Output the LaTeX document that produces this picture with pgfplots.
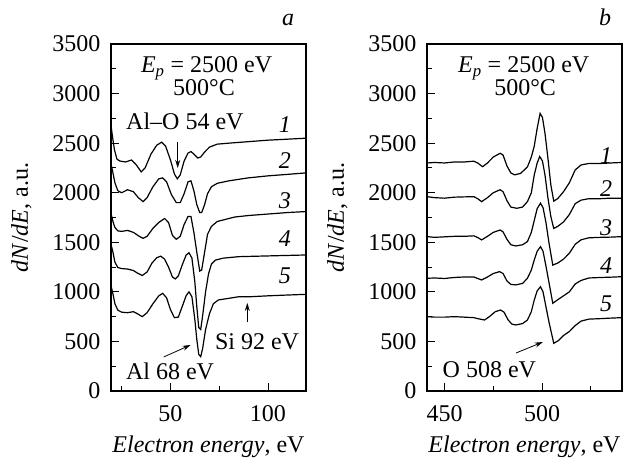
\documentclass[border=0pt]{standalone}
\usepackage{fontspec}
\setmainfont{Liberation Serif}
\usepackage{pgfplots}
\pgfplotsset{compat=1.18}
\usetikzlibrary{arrows.meta}

\pgfplotsset{
  panel/.style={
    scale only axis, width=195pt, height=347pt, anchor=south west,
    ymin=0, ymax=3500, ytick={0,500,...,3500}, minor ytick={250,750,...,3250},
    xtick pos=left, ytick pos=left, tick align=inside,
    major tick length=8pt, minor tick length=5pt,
    axis line style={line width=1.3pt},
    tick style={black, line width=0.9pt},
    tick label style={font=\fontsize{24}{28}\selectfont},
    label style={font=\fontsize{24}{28}\selectfont},
    xticklabel shift=11pt, yticklabel shift=7pt,
    xlabel shift=7pt, ylabel shift=14pt,
    /pgf/number format/assume math mode=true,
    /pgf/number format/1000 sep={},
    xlabel={\textit{Electron energy}, eV},
    ylabel={\textit{dN}/\textit{dE}, a.u.},
    clip=false,
    every axis plot post/.append style={black, line width=1.2pt, mark=none},
  },
}
\tikzset{
  note/.style={font=\fontsize{24}{28}\selectfont, inner sep=0pt},
  arr/.style={-{Stealth[length=8pt,width=5pt]}, line width=0.8pt},
}

\begin{document}
\begin{tikzpicture}

% panel a
\begin{axis}[panel, name=pa, at={(111pt,73pt)}, xmin=19.5, xmax=119.5,
    xtick={50,100}, minor xtick={25,75}]
\addplot coordinates {(19.5,2680) (20.3,2560) (21.2,2440) (22.5,2340) (24,2320) (27,2310) (30,2330) (32.5,2280) (35,2210) (37,2250) (40,2390) (43,2480) (45.5,2510) (47.5,2470) (50,2330) (52,2190) (53.5,2140) (55,2180) (57,2320) (59,2400) (60.5,2415) (62,2390) (64,2350) (65.5,2360) (67.5,2410) (70,2460) (74,2490) (80,2500) (90,2515) (100,2530) (110,2540) (119.5,2550)};
\addplot coordinates {(19.5,2290) (20.5,2200) (21.5,2100) (23,2020) (25,2000) (28,2030) (31,2010) (33.5,1950) (36,1910) (38,1950) (41,2060) (44,2140) (46,2150) (48,2110) (50.5,1980) (53,1900) (55,1900) (57,1990) (59,2110) (60.5,2120) (62,2020) (63.5,1880) (65,1800) (66,1800) (67.5,1880) (69,1990) (71,2060) (74,2095) (80,2120) (90,2150) (100,2170) (110,2185) (119.5,2200)};
\addplot coordinates {(19.5,1790) (20.5,1710) (21.5,1650) (23,1615) (25,1610) (28,1620) (31,1600) (34,1560) (36,1540) (38,1560) (41,1640) (44,1700) (47,1740) (49,1700) (51,1570) (53,1530) (55,1560) (57,1680) (59,1760) (60.5,1760) (62,1600) (63.5,1400) (65,1210) (66,1220) (67.5,1400) (69,1580) (71,1660) (74,1710) (78,1730) (83,1755) (90,1770) (100,1785) (110,1800) (119.5,1810)};
\addplot coordinates {(19.5,1480) (20.5,1400) (21.5,1300) (23,1245) (25,1235) (28,1230) (31,1215) (33,1190) (35.5,1165) (38,1200) (40.5,1290) (43,1345) (45,1360) (47,1330) (49,1250) (51,1150) (52.5,1130) (54,1160) (56,1270) (58,1370) (59.5,1395) (61,1340) (62.5,1100) (63.5,850) (64.5,640) (65.5,620) (66.5,760) (68,1000) (69.5,1180) (71,1280) (73,1320) (77,1340) (85,1355) (95,1360) (105,1365) (119.5,1372)};
\addplot coordinates {(19.5,1060) (20.5,980) (21.5,880) (23,815) (25,795) (28,790) (31,800) (33,780) (35.5,750) (38,790) (41,880) (44,960) (46,985) (48,940) (50,820) (52,740) (54,745) (56,850) (58,960) (59.5,1000) (61,950) (62.5,720) (63.5,520) (64.5,370) (65.5,346) (66.5,430) (68,620) (70,780) (72,880) (74.5,918) (80,935) (85,951) (90,950) (100,960) (110,968) (119.5,975)};
\node[note, anchor=base] at (rel axis cs:0.49,0.917) {\textit{E}\textsubscript{\textit{p}} = 2500 eV};
\node[note, anchor=base] at (rel axis cs:0.477,0.853) {500°C};
\node[note, anchor=base] at (axis cs:57.4,2633) {Al–O 54 eV};
\node[note, anchor=base] at (axis cs:94.4,414) {Si 92 eV};
\node[note, anchor=base] at (axis cs:49.8,121) {Al 68 eV};
\draw[arr] (axis cs:53.7,2512) -- (axis cs:53.7,2250);
\draw[arr] (axis cs:89.4,696) -- (axis cs:89.4,888);
\draw[arr] (axis cs:46.5,343) -- (axis cs:60.3,464);
\node[note] at (axis cs:108.7,2684) {\textit{1}};
\node[note] at (axis cs:108.7,2324) {\textit{2}};
\node[note] at (axis cs:108.7,1924) {\textit{3}};
\node[note] at (axis cs:108.7,1533) {\textit{4}};
\node[note] at (axis cs:108.7,1163) {\textit{5}};
\node[note, anchor=base] at ([yshift=18pt]rel axis cs:0.908,1) {\textit{a}};
\end{axis}

% panel b
\begin{axis}[panel, name=pb, at={(427pt,73pt)}, xmin=441, xmax=541,
    xtick={450,500}, minor xtick={475,525}]
\addplot coordinates {(441,2300) (445,2305) (450,2300) (455,2310) (460,2310) (465,2318) (467,2300) (469.5,2262) (472,2300) (475,2360) (478.5,2398) (480,2380) (482,2270) (484,2200) (486,2180) (489,2195) (492.5,2260) (494.5,2360) (496,2470) (497.5,2650) (499,2800) (500.2,2760) (501.5,2600) (503,2350) (504.5,2080) (506,1915) (508,1940) (511,2010) (514,2100) (517,2230) (520,2280) (524,2295) (530,2295) (535,2300) (541,2305)};
\addplot coordinates {(441,1960) (445,1950) (450,1945) (455,1955) (460,1958) (465,1960) (467,1940) (469,1910) (472,1950) (475,2000) (478.5,2030) (480,2010) (482,1920) (484,1855) (487,1843) (490,1855) (492.5,1910) (494.5,2000) (496,2180) (497.5,2300) (498.8,2365) (500.2,2320) (501.5,2180) (503,1950) (504.5,1760) (506,1640) (508,1660) (511,1705) (514,1780) (517,1890) (520,1925) (524,1940) (530,1940) (535,1945) (541,1944)};
\addplot coordinates {(441,1557) (445,1550) (450,1555) (455,1560) (460,1560) (465,1565) (467,1548) (469,1524) (472,1560) (475,1600) (478.5,1624) (480,1605) (482,1530) (484,1475) (486.5,1463) (490,1475) (492.5,1507) (494.5,1600) (496,1720) (497.5,1840) (499.2,1894) (500.5,1850) (502,1700) (503.5,1500) (505.5,1270) (508,1290) (511,1330) (514,1390) (517,1480) (520,1525) (524,1545) (530,1550) (535,1552) (541,1557)};
\addplot coordinates {(441,1137) (445,1140) (450,1135) (455,1145) (460,1150) (465,1150) (467,1135) (469,1120) (472,1150) (475,1185) (478.2,1204) (480,1185) (482,1110) (484,1075) (486.5,1070) (490,1085) (492.5,1137) (494.5,1220) (496,1322) (497.5,1410) (499.2,1456) (500.5,1410) (502,1260) (503.5,1100) (505.5,885) (508,920) (511,960) (514,1000) (517,1080) (520,1115) (524,1140) (530,1145) (535,1148) (541,1153)};
\addplot coordinates {(441,750) (445,745) (450,745) (455,750) (460,745) (465,740) (467,730) (470.5,716) (473,750) (476,800) (478.7,817) (480.5,795) (482.5,720) (484.5,675) (486.5,666) (490,680) (492.5,716) (494.5,800) (496,918) (497.5,1010) (499.2,1052) (500.5,1000) (502,850) (503.5,700) (506,481) (508.5,510) (511,560) (514,600) (517,660) (520,705) (524,725) (530,730) (535,735) (541,740)};
\node[note, anchor=base] at (rel axis cs:0.496,0.917) {\textit{E}\textsubscript{\textit{p}} = 2500 eV};
\node[note, anchor=base] at (rel axis cs:0.503,0.853) {500°C};
\node[note, anchor=base] at (axis cs:473,141) {O 508 eV};
\draw[arr] (axis cs:486.6,383) -- (axis cs:500.4,494);
\node[note] at (axis cs:532.8,2375) {\textit{1}};
\node[note] at (axis cs:532.8,2038) {\textit{2}};
\node[note] at (axis cs:532.8,1650) {\textit{3}};
\node[note] at (axis cs:532.8,1264) {\textit{4}};
\node[note] at (axis cs:532.8,878) {\textit{5}};
\node[note, anchor=base] at ([yshift=18pt]rel axis cs:0.913,1) {\textit{b}};
\end{axis}
\draw[black, line width=1.5pt] (pa.south west) rectangle (pa.north east);
\draw[black, line width=1.5pt] (pb.south west) rectangle (pb.north east);
\pgfresetboundingbox
\path[use as bounding box] (0pt,0pt) rectangle (642pt,464pt);
\end{tikzpicture}
\end{document}
